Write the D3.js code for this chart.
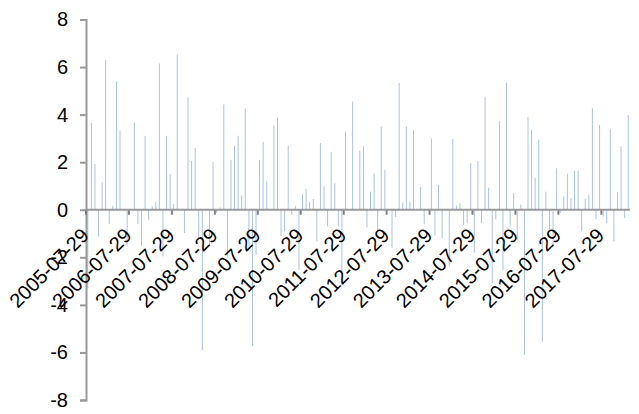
<!DOCTYPE html>
<html>
<head>
<meta charset="utf-8">
<script src="https://cdn.jsdelivr.net/npm/d3@7"></script>
<style>
  body { margin: 0; background: #fff; }
  text { font-family: "Liberation Sans", Arial, sans-serif; fill: #000; }
</style>
</head>
<body>
<script>
// monthly series, first month 2005-07-29
const startDate = '2005-07-29';
const values = [
  -3.3, 3.65, 1.93, -1.12, 1.15, 6.3, -0.6, 0.17, 5.4, 3.33, 0, -1.5,
  0, 3.66, -0.6, -1.52, 3.11, -0.42, 0.14, 0.33, 6.15, -1.96, 3.11, 1.51,
  0.25, 6.53, 0, -0.98, 4.72, 2.05, 2.6, -1.26, -5.9, 0, -1.47, 2.0,
  -0.14, 0.1, 4.43, -2.0, 2.1, 2.7, 3.11, 0.6, 4.26, -1.55, -5.72, -1.9,
  2.1, 2.86, 1.19, 0, 3.54, 3.87, -1.12, -0.9, 2.7, -0.2, 0.17, -2.53,
  0.65, 0.88, 0.33, 0.45, -1.33, 2.8, 0.98, -0.7, 2.44, 1.11, -0.7, -3.18,
  3.28, 0, 4.55, 0, 2.48, 2.67, -0.75, 0.76, 1.52, -0.85, 3.49, 1.68,
  0, -1.6, -0.3, 5.33, 0.31, 3.5, 0.34, 3.34, 0, 0.95, -0.6, 0,
  3.0, -1.08, 1.04, -1.2, 0, -2.39, 2.98, 0.17, 0.27, -0.63, -0.56, 1.96,
  -1.8, 2.05, -0.56, 4.75, 0.93, -3.1, -0.4, 3.73, -2.52, 5.33, -0.7, 0.7,
  -1.26, 0.22, -6.1, 3.9, 3.37, 1.35, 2.95, -5.55, 0.76, -0.8, -1.57, 1.74,
  -0.14, 0.56, 1.52, 0.5, 1.64, 1.64, -0.9, 0.46, 0.63, 4.27, -0.4, 3.56,
  -0.28, -0.56, 3.38, -1.33, 0.74, 2.67, -0.35, 3.98,
];
const yTicks = [-8, -6, -4, -2, 0, 2, 4, 6, 8];
const tickEvery = 12;

const width = 639;
const height = 414;
const margin = { top: 19.5, right: 9, bottom: 14, left: 86 };

// * category labels, one per month
const parseDate = d3.timeParse('%Y-%m-%d');
const fmt = d3.timeFormat('%Y-%m-%d');
const categories = values.map((_, i) => fmt(d3.timeMonth.offset(parseDate(startDate), i)));

const svg = d3.select('body')
  .append('svg')
  .attr('width', width)
  .attr('height', height);

const x = d3.scaleBand()
  .domain(categories)
  .range([margin.left, width - margin.right])
  .padding(0);
const y = d3.scaleLinear()
  .domain([-8, 8])
  .range([height - margin.bottom, margin.top]);

const bw = x.bandwidth();

// ! bars as thin lines
svg.append('g')
  .selectAll('rect')
  .data(values)
  .join('rect')
  .attr('x', (d, i) => x(categories[i]) + bw / 2 - 0.5)
  .attr('width', 1)
  .attr('y', (d) => y(Math.max(0, d)))
  .attr('height', (d) => Math.abs(y(d) - y(0)))
  .attr('fill', '#a9c3e8');

// * y axis
const yAxis = svg.append('g')
  .attr('transform', `translate(${margin.left},0)`)
  .call(d3.axisLeft(y).tickValues(yTicks).tickSize(6).tickPadding(12).tickFormat((d) => String(d)));
yAxis.select('.domain').attr('stroke', '#999').attr('stroke-width', 2);
yAxis.selectAll('.tick line').attr('stroke', '#999').attr('stroke-width', 2);
yAxis.selectAll('.tick text').style('font-size', '20px');

// * x axis at zero, ticks on the left edge of every 12th month
const xAxis = svg.append('g')
  .attr('transform', `translate(${-bw / 2},${y(0)})`)
  .call(d3.axisBottom(x)
    .tickValues(categories.filter((d, i) => i % tickEvery === 0))
    .tickSize(5));
xAxis.select('.domain').remove();
xAxis.selectAll('.tick line').attr('stroke', '#808080').attr('stroke-width', 2);
xAxis.selectAll('.tick text')
  .style('font-size', '20px')
  .attr('text-anchor', 'end')
  .attr('y', 0)
  .attr('dy', 0)
  .attr('transform', 'translate(4,27) rotate(-45)');

svg.append('line')
  .attr('x1', margin.left)
  .attr('x2', width - margin.right)
  .attr('y1', y(0))
  .attr('y2', y(0))
  .attr('stroke', '#999')
  .attr('stroke-width', 2);
</script>
</body>
</html>
